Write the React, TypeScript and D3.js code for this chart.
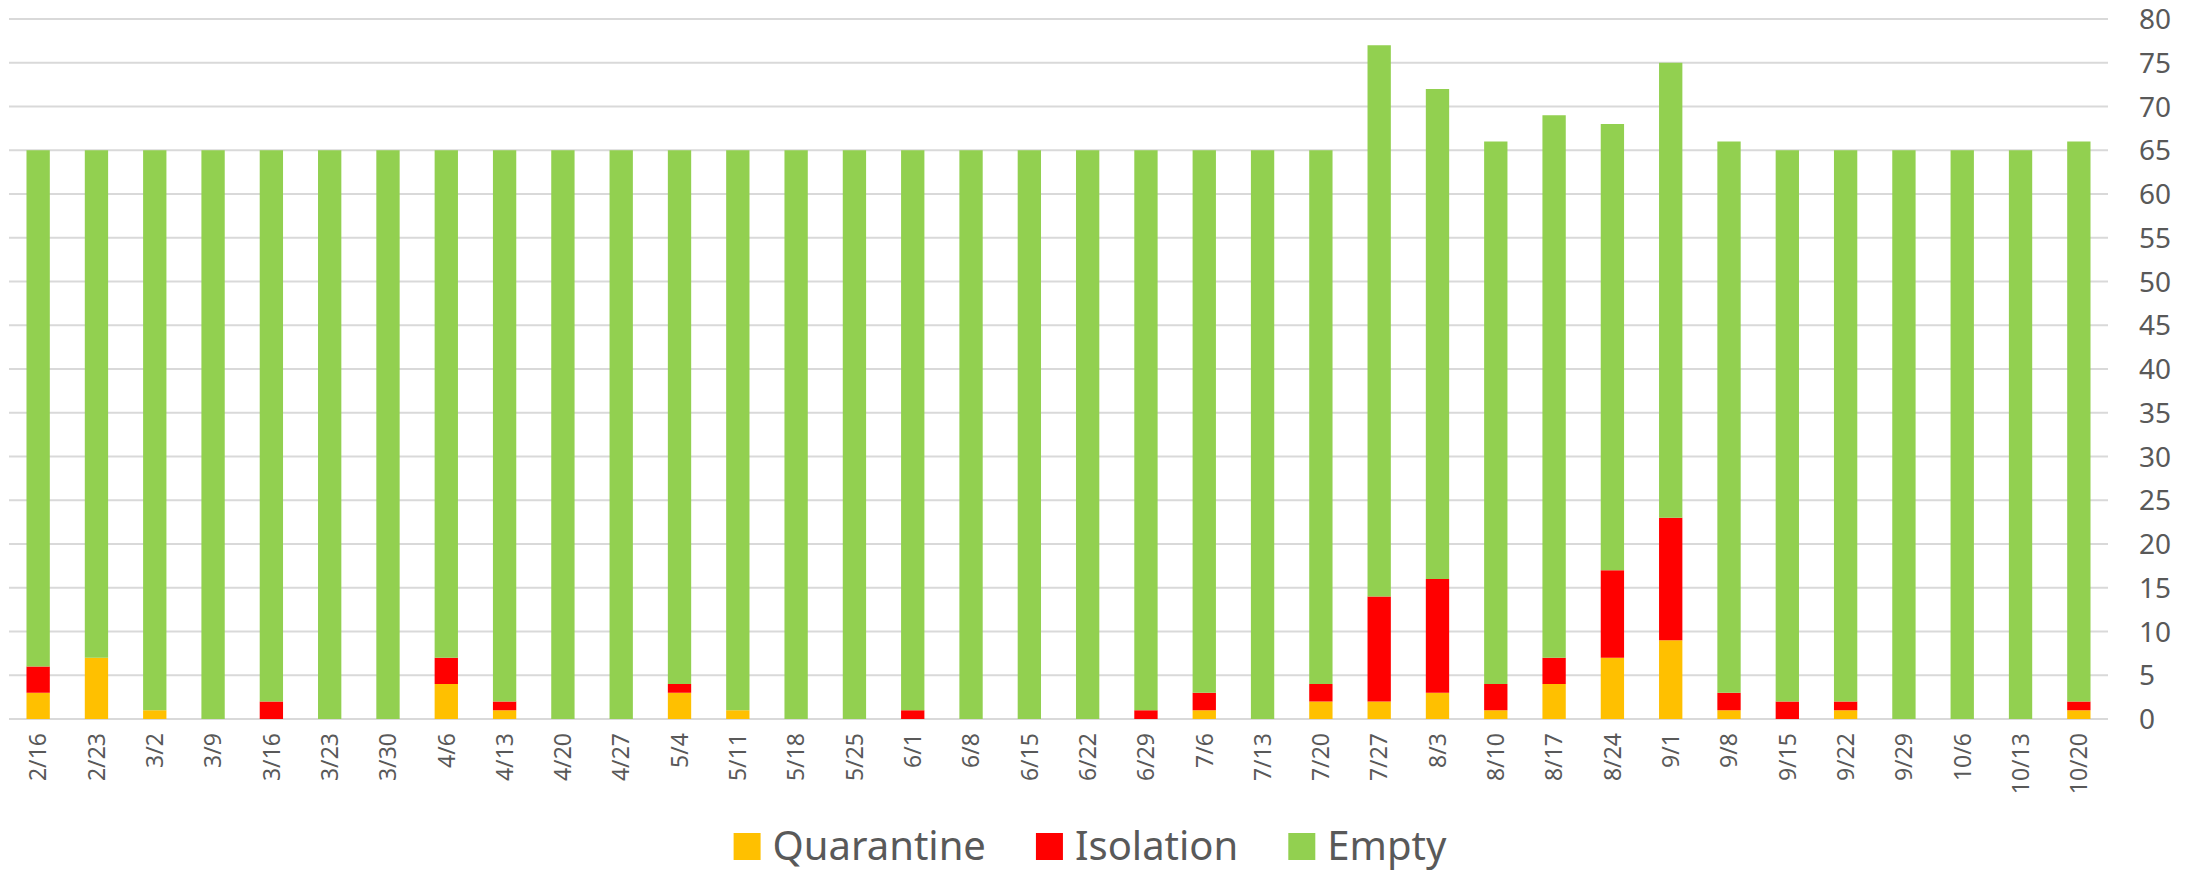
import React, { useEffect, useRef } from 'react';
import * as d3 from 'd3';

const dates = ['2/16', '2/23', '3/2', '3/9', '3/16', '3/23', '3/30', '4/6', '4/13', '4/20', '4/27', '5/4', '5/11', '5/18', '5/25', '6/1', '6/8', '6/15', '6/22', '6/29', '7/6', '7/13', '7/20', '7/27', '8/3', '8/10', '8/17', '8/24', '9/1', '9/8', '9/15', '9/22', '9/29', '10/6', '10/13', '10/20'];
const quarantine = [3, 7, 1, 0, 0, 0, 0, 4, 1, 0, 0, 3, 1, 0, 0, 0, 0, 0, 0, 0, 1, 0, 2, 2, 3, 1, 4, 7, 9, 1, 0, 1, 0, 0, 0, 1];
const isolation = [3, 0, 0, 0, 2, 0, 0, 3, 1, 0, 0, 1, 0, 0, 0, 1, 0, 0, 0, 1, 2, 0, 2, 12, 13, 3, 3, 10, 14, 2, 2, 1, 0, 0, 0, 1];
const empty = [59, 58, 64, 65, 63, 65, 65, 58, 63, 65, 65, 61, 64, 65, 65, 64, 65, 65, 65, 64, 62, 65, 61, 63, 56, 62, 62, 51, 52, 63, 63, 63, 65, 65, 65, 64];
const yTicks = d3.range(0, 81, 5);

const keys = ['Quarantine', 'Isolation', 'Empty'];
const colors = ['#FFC000', '#FF0000', '#92D050'];

const App = () => {
  const svgRef = useRef(null);

  useEffect(() => {
    const width = 2195;
    const height = 872;
    const font = '"Noto Sans", sans-serif';
    const textColor = '#595959';

    const svg = d3.select(svgRef.current);
    svg.selectAll('*').remove();
    svg.attr('width', width).attr('height', height);

    const rows = dates.map((d, i) => ({
      date: d,
      Quarantine: quarantine[i],
      Isolation: isolation[i],
      Empty: empty[i],
    }));

    const x = d3.scaleBand()
      .domain(dates)
      .range([9, 2108])
      .paddingInner(0.6)
      .paddingOuter(0.3);

    const y = d3.scaleLinear()
      .domain([0, 80])
      .range([719, 19]);

    const color = d3.scaleOrdinal().domain(keys).range(colors);

    // gridlines
    svg.append('g')
      .selectAll('line')
      .data(yTicks)
      .join('line')
      .attr('x1', 9)
      .attr('x2', 2108)
      .attr('y1', d => y(d))
      .attr('y2', d => y(d))
      .attr('stroke', '#d9d9d9')
      .attr('stroke-width', 2);

    // right axis labels
    svg.append('g')
      .selectAll('text')
      .data(yTicks)
      .join('text')
      .attr('x', 2139)
      .attr('y', d => y(d))
      .attr('dy', '0.36em')
      .attr('font-family', font)
      .attr('font-size', 28)
      .attr('fill', textColor)
      .text(d => d);

    const series = d3.stack().keys(keys)(rows);

    svg.append('g')
      .selectAll('g')
      .data(series)
      .join('g')
      .attr('fill', d => color(d.key))
      .selectAll('rect')
      .data(d => d)
      .join('rect')
      .attr('x', d => x(d.data.date))
      .attr('width', x.bandwidth())
      .attr('y', d => y(d[1]))
      .attr('height', d => y(d[0]) - y(d[1]));

    // category labels, rotated
    svg.append('g')
      .selectAll('text')
      .data(dates)
      .join('text')
      .attr('transform', d => `translate(${x(d) + x.bandwidth() / 2},733) rotate(-90)`)
      .attr('text-anchor', 'end')
      .attr('dy', '0.36em')
      .attr('font-family', font)
      .attr('font-size', 23)
      .attr('fill', textColor)
      .text(d => d);

    // legend
    const legend = svg.append('g');
    let lx = 0;
    keys.forEach((k, i) => {
      const item = legend.append('g').attr('transform', `translate(${lx},0)`);
      item.append('rect')
        .attr('x', 0)
        .attr('y', 833)
        .attr('width', 27)
        .attr('height', 27)
        .attr('fill', colors[i]);
      const t = item.append('text')
        .attr('x', 39)
        .attr('y', 860)
        .attr('font-family', font)
        .attr('font-size', 40)
        .attr('fill', textColor)
        .text(k);
      lx += 39 + t.node().getComputedTextLength() + 50;
    });
    const legendWidth = lx - 50;
    legend.attr('transform', `translate(${1090 - legendWidth / 2},0)`);
  }, []);

  return (
    <svg ref={svgRef} style={{ position: 'absolute', left: 0, top: 0, background: '#fff' }}></svg>
  );
};

export default App;
